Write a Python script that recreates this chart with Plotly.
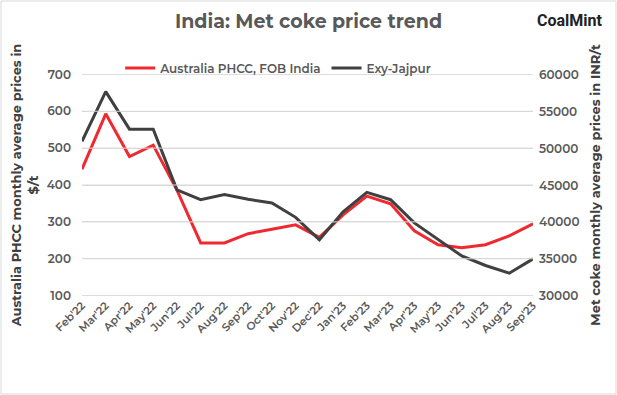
import plotly.graph_objects as go

months = ["Feb'22","Mar'22","Apr'22","May'22","Jun'22","Jul'22","Aug'22","Sep'22","Oct'22","Nov'22",
          "Dec'22","Jan'23","Feb'23","Mar'23","Apr'23","May'23","Jun'23","Jul'23","Aug'23","Sep'23"]
australia_phcc = [443, 593, 477, 508, 386, 243, 243, 268, 280, 292,
                  258, 319, 370, 349, 276, 238, 230, 238, 262, 295]
exy_jajpur = [51000, 57750, 52650, 52650, 44400, 43050, 43750, 43100, 42600, 40650,
              37600, 41400, 44050, 43050, 39900, 37700, 35400, 34100, 33050, 35000]
left_ticks = [100, 200, 300, 400, 500, 600, 700]
right_ticks = [30000, 35000, 40000, 45000, 50000, 55000, 60000]

W, H = 617, 395
ml, mr, mt, mb = 82, 84, 74, 99
pw, ph = W - ml - mr, H - mt - mb

font = "Montserrat, 'Open Sans', 'DejaVu Sans', sans-serif"
tc = "#595959"
grid_c = "#D9D9D9"

fig = go.Figure()
fig.add_trace(go.Scatter(x=months, y=australia_phcc, name="Australia PHCC, FOB India",
                         mode="lines", line=dict(color="#EE2A30", width=3)))
fig.add_trace(go.Scatter(x=months, y=exy_jajpur, name="Exy-Jajpur", yaxis="y2",
                         mode="lines", line=dict(color="#404040", width=3)))

grid_shapes = [dict(type="line", xref="paper", yref="y", x0=0, x1=1, y0=v, y1=v,
                    layer="above", line=dict(color=grid_c, width=1)) for v in left_ticks]

fig.update_layout(
    width=W, height=H,
    margin=dict(l=ml, r=mr, t=mt, b=mb, autoexpand=False),
    paper_bgcolor="white", plot_bgcolor="rgba(0,0,0,0)",
    font=dict(family=font, color=tc, size=12),
    title=dict(text="<b>India: Met coke price trend</b>", x=0.5, xanchor="center",
               y=1 - 21 / H, yanchor="middle", font=dict(size=19, color=tc)),
    legend=dict(orientation="h", x=0.435, xanchor="center", y=1 + 6 / ph, yanchor="middle",
                font=dict(size=12, color=tc, weight=600), bgcolor="rgba(0,0,0,0)"),
    xaxis=dict(type="category", tickangle=-45, showgrid=False, showline=False,
               tickfont=dict(size=11, color=tc, weight=600), ticks="", automargin=False),
    yaxis=dict(range=[99, 701], tickmode="array", tickvals=left_ticks,
               showgrid=True, gridcolor=grid_c, gridwidth=1,
               zeroline=False, tickfont=dict(size=12, color=tc, weight=600), ticks="",
               ticklabelstandoff=10, automargin=False,
               title=dict(text="<b>Australia PHCC monthly average prices in<br>$/t</b>",
                          font=dict(size=13, color="#404040"), standoff=5)),
    yaxis2=dict(range=[29950, 60150], tickmode="array", tickvals=right_ticks,
                tickformat="d", overlaying="y", side="right",
                showgrid=False, zeroline=False, tickfont=dict(size=12, color=tc, weight=600), ticks="",
                ticklabelstandoff=5, automargin=False,
                title=dict(text="<b>Met coke monthly average prices in INR/t</b>",
                           font=dict(size=13, color="#404040"), standoff=12)),
    shapes=grid_shapes + [dict(type="rect", xref="paper", yref="paper", layer="above",
                 x0=(1 - ml) / pw, x1=(W - 1 - ml) / pw,
                 y0=-(mb - 1) / ph, y1=1 + (mt - 1) / ph,
                 fillcolor="rgba(0,0,0,0)",
                 line=dict(color="#D9D9D9", width=1))],
    annotations=[dict(text="<b>CoalMint</b>", xref="paper", yref="paper",
                      x=(W - 12 - ml) / pw, y=1 + (mt - 20) / ph, xanchor="right", yanchor="middle",
                      showarrow=False, font=dict(size=16, color="#222222", family="Roboto, sans-serif"))],
)

fig.write_html("out.html", config={"displayModeBar": False},
               post_script="document.body.style.margin='0';")
